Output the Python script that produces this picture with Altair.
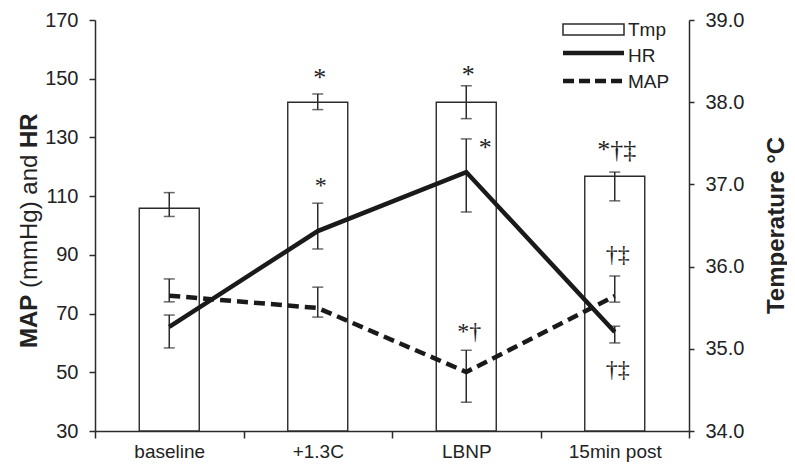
import altair as alt
import pandas as pd

categories = ["baseline", "+1.3C", "LBNP", "15min post"]

tmp = [36.71, 38.00, 38.00, 37.10]
tmp_lo = [36.61, 37.91, 37.80, 36.80]
tmp_hi = [36.90, 38.10, 38.20, 37.15]

hr = [65.5, 98.1, 118.2, 63.7]
hr_lo = [58.3, 92.0, 104.6, 60.0]
hr_hi = [69.5, 107.6, 129.5, 65.7]

map_vals = [76.1, 71.9, 50.1, 76.0]
map_lo = [74.0, 68.8, 39.8, 73.9]
map_hi = [81.8, 79.0, 57.5, 82.8]

# significance marks (category, label, value on axis)
tmp_ann_cat = ["+1.3C", "LBNP", "15min post"]
tmp_ann_txt = ["*", "*", "*†‡"]
tmp_ann_val = [38.30, 38.33, 37.42]

left_ann_cat = ["+1.3C", "LBNP", "15min post", "15min post"]
left_ann_txt = ["*", "*†", "†‡", "†‡"]
left_ann_val = [113.5, 63.7, 90.0, 50.8]

side_ann_cat = ["LBNP"]
side_ann_txt = ["*"]
side_ann_val = [126.4]

df = pd.DataFrame({
    "cat": categories, "tmp": tmp, "tmp_lo": tmp_lo, "tmp_hi": tmp_hi,
    "hr": hr, "hr_lo": hr_lo, "hr_hi": hr_hi,
    "map": map_vals, "map_lo": map_lo, "map_hi": map_hi,
})
df["base"] = 34.0

tmp_ann = pd.DataFrame({"cat": tmp_ann_cat, "txt": tmp_ann_txt, "v": tmp_ann_val})
left_ann = pd.DataFrame({"cat": left_ann_cat, "txt": left_ann_txt, "v": left_ann_val})
side_ann = pd.DataFrame({"cat": side_ann_cat, "txt": side_ann_txt, "v": side_ann_val})
one = pd.DataFrame({"k": [0]})

INK = "#1a1a1a"
AX = "#2b2b2b"
TXT = "#222222"

x_enc = alt.X(
    "cat:N", sort=categories,
    scale=alt.Scale(domain=categories, paddingInner=0, paddingOuter=0),
    axis=alt.Axis(title=None, labelAngle=0, labelFontSize=19, labelPadding=4,
                  tickSize=7, tickBand="extent", labelColor=TXT,
                  domainColor=AX, tickColor=AX, domainWidth=1.5, tickWidth=1.5,
                  labelFont="Liberation Sans"),
)

right_axis = alt.Axis(
    orient="right", values=[34, 35, 36, 37, 38, 39], format=".1f",
    title="Temperature °C", titleFontWeight="bold", titleFontSize=24,
    titleFont="Liberation Sans", titleAngle=270, titleX=87, titleY=205,
    titleAlign="center", titleBaseline="middle", titleColor=TXT,
    labelFontSize=20, labelFont="Liberation Sans", labelPadding=11, tickSize=5,
    labelColor=TXT, domainColor=AX, tickColor=AX, domainWidth=1.5,
    tickWidth=1.5, grid=False,
)
left_axis = alt.Axis(
    orient="left", values=list(range(30, 171, 20)), format="d", title=None,
    labelFontSize=20, labelFont="Liberation Sans", labelPadding=11, tickSize=6,
    labelColor=TXT, domainColor=AX, tickColor=AX, domainWidth=1.5,
    tickWidth=1.5, grid=False,
)

tscale = alt.Scale(domain=[34, 39], zero=False, nice=False)
lscale = alt.Scale(domain=[30, 170], zero=False, nice=False)


def yt(field):
    return alt.Y(f"{field}:Q", scale=tscale, axis=right_axis)


def yl(field):
    return alt.Y(f"{field}:Q", scale=lscale, axis=left_axis)


base = alt.Chart(df)

bars = base.mark_bar(size=60, fill="white", stroke=AX, strokeWidth=1.4).encode(
    x=x_enc, y=yt("tmp"), y2="base")
t_rule = base.mark_rule(color=AX, strokeWidth=1.5).encode(x=x_enc, y=yt("tmp_lo"), y2="tmp_hi")
t_cap1 = base.mark_tick(color=AX, thickness=1.5, size=11).encode(x=x_enc, y=yt("tmp_lo"))
t_cap2 = base.mark_tick(color=AX, thickness=1.5, size=11).encode(x=x_enc, y=yt("tmp_hi"))
t_text = alt.Chart(tmp_ann).mark_text(
    font="Liberation Serif", fontSize=26, color=TXT, baseline="middle", dx=2
).encode(x=x_enc, y=yt("v"), text="txt:N")

right_group = alt.layer(bars, t_rule, t_cap1, t_cap2, t_text)

h_rule = base.mark_rule(color=AX, strokeWidth=1.5).encode(x=x_enc, y=yl("hr_lo"), y2="hr_hi")
h_cap1 = base.mark_tick(color=AX, thickness=1.5, size=11).encode(x=x_enc, y=yl("hr_lo"))
h_cap2 = base.mark_tick(color=AX, thickness=1.5, size=11).encode(x=x_enc, y=yl("hr_hi"))
m_rule = base.mark_rule(color=AX, strokeWidth=1.5).encode(x=x_enc, y=yl("map_lo"), y2="map_hi")
m_cap1 = base.mark_tick(color=AX, thickness=1.5, size=11).encode(x=x_enc, y=yl("map_lo"))
m_cap2 = base.mark_tick(color=AX, thickness=1.5, size=11).encode(x=x_enc, y=yl("map_hi"))

hr_line = base.mark_line(color=INK, strokeWidth=4.5).encode(x=x_enc, y=yl("hr"))
map_line = base.mark_line(color=INK, strokeWidth=4.5, strokeDash=[11, 6]).encode(
    x=x_enc, y=yl("map"))

l_text = alt.Chart(left_ann).mark_text(
    font="Liberation Serif", fontSize=24, color=TXT, baseline="middle", dx=3
).encode(x=x_enc, y=yl("v"), text="txt:N")
s_text = alt.Chart(side_ann).mark_text(
    font="Liberation Serif", fontSize=26, color=TXT, baseline="middle", dx=19
).encode(x=x_enc, y=yl("v"), text="txt:N")

# legend
leg = alt.Chart(one)
leg_rect = leg.mark_rect(fill="white", stroke=AX, strokeWidth=1.5).encode(
    x=alt.value(468), x2=alt.value(529), y=alt.value(4), y2=alt.value(15))
leg_hr = leg.mark_rule(color=INK, strokeWidth=4.5).encode(
    x=alt.value(468), x2=alt.value(529), y=alt.value(33))
leg_map = leg.mark_rule(color=INK, strokeWidth=4.5, strokeDash=[11, 5]).encode(
    x=alt.value(468), x2=alt.value(529), y=alt.value(61))
lt = dict(align="left", baseline="middle", fontSize=19, font="Liberation Sans", color=TXT)
leg_t1 = leg.mark_text(**lt).encode(x=alt.value(533), y=alt.value(10), text=alt.value("Tmp"))
leg_t2 = leg.mark_text(**lt).encode(x=alt.value(533), y=alt.value(36), text=alt.value("HR"))
leg_t3 = leg.mark_text(**lt).encode(x=alt.value(533), y=alt.value(62), text=alt.value("MAP"))

# left axis title with mixed weights (segments laid end to end, reading upward)
tkw = dict(angle=270, align="left", baseline="middle", fontSize=24,
           font="Liberation Sans", color=TXT)
title_map = leg.mark_text(fontWeight="bold", **tkw).encode(
    x=alt.value(-65), y=alt.value(328), text=alt.value("MAP"))
title_mid = leg.mark_text(fontWeight="normal", **tkw).encode(
    x=alt.value(-65), y=alt.value(268), text=alt.value("(mmHg) and"))
title_hr = leg.mark_text(fontWeight="bold", **tkw).encode(
    x=alt.value(-65), y=alt.value(128), text=alt.value("HR"))

left_group = alt.layer(h_rule, h_cap1, h_cap2, m_rule, m_cap1, m_cap2,
                       hr_line, map_line, l_text, s_text,
                       leg_rect, leg_hr, leg_map, leg_t1, leg_t2, leg_t3,
                       title_map, title_mid, title_hr)

chart = alt.layer(right_group, left_group).resolve_scale(y="independent").properties(
    width=594, height=411,
    autosize=alt.AutoSizeParams(type="none"),
    padding={"left": 87, "top": 12, "right": 98, "bottom": 32},
).configure_view(stroke=None)

chart.save("out.html", embed_options={"renderer": "svg", "actions": False})
